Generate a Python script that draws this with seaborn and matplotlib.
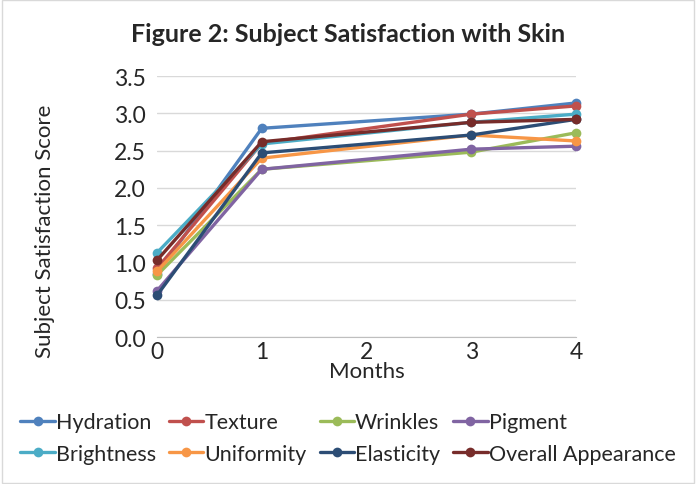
import pandas as pd
import matplotlib.pyplot as plt
import seaborn as sns
from matplotlib.patches import Rectangle

# values
months = [0, 1, 3, 4]
hydration = [0.85, 2.80, 2.99, 3.14]
texture = [0.92, 2.60, 2.99, 3.10]
wrinkles = [0.83, 2.25, 2.48, 2.74]
pigment = [0.62, 2.25, 2.52, 2.56]
brightness = [1.13, 2.59, 2.88, 2.99]
uniformity = [0.88, 2.40, 2.71, 2.63]
elasticity = [0.56, 2.47, 2.71, 2.92]
overall = [1.03, 2.62, 2.88, 2.92]

series = {
    'Hydration': hydration,
    'Texture': texture,
    'Wrinkles': wrinkles,
    'Pigment': pigment,
    'Brightness': brightness,
    'Uniformity': uniformity,
    'Elasticity': elasticity,
    'Overall Appearance': overall,
}
colors = ['#4F81BD', '#C0504D', '#9BBB59', '#8064A2',
          '#4BACC6', '#F79646', '#2C4D75', '#772C2A']

rows = []
for name, vals in series.items():
    for m, v in zip(months, vals):
        rows.append({'Month': m, 'Score': v, 'Attribute': name})
df = pd.DataFrame(rows)

sns.set_style('white')
plt.rcParams['font.family'] = ['Lato', 'DejaVu Sans']

fig = plt.figure(figsize=(6.96, 4.85), dpi=100)
ax = fig.add_axes([0.2256, 0.303, 0.602, 0.538])

sns.lineplot(data=df, x='Month', y='Score', hue='Attribute',
             hue_order=list(series.keys()), palette=colors,
             marker='o', markersize=7, markeredgewidth=0,
             linewidth=2.4, ax=ax, legend=True)
for line in ax.get_lines():
    line.set_clip_on(False)

ax.set_xlim(0, 4)
ax.set_ylim(0, 3.5)
ax.set_xticks([0, 1, 2, 3, 4])
ax.set_yticks([0, 0.5, 1.0, 1.5, 2.0, 2.5, 3.0, 3.5])
ax.set_yticklabels([f'{v:.1f}' for v in ax.get_yticks()])
ax.yaxis.grid(True, color='#D9D9D9', linewidth=1)
ax.set_axisbelow(True)
for s in ['top', 'right', 'left']:
    ax.spines[s].set_visible(False)
ax.spines['bottom'].set_color('#BFBFBF')
ax.tick_params(axis='both', labelsize=16.5, length=0)
ax.tick_params(axis='y', pad=8)
ax.tick_params(axis='x', pad=3)
ax.set_xlabel('Months', fontsize=16)
ax.xaxis.set_label_coords(0.5, -0.092)
ax.set_ylabel('Subject Satisfaction Score', fontsize=16)
ax.yaxis.set_label_coords(-0.243, 0.41)

fig.text(0.5, 1 - 35 / 485, 'Figure 2: Subject Satisfaction with Skin',
         fontsize=18, fontweight='bold', ha='center', va='center')

# legend filled row by row, like the original
handles, labels = ax.get_legend_handles_labels()
ax.get_legend().remove()
order = [0, 4, 1, 5, 2, 6, 3, 7]
fig.legend([handles[i] for i in order], [labels[i] for i in order],
           loc='center', bbox_to_anchor=(0.5, 1 - 439 / 485),
           ncol=4, fontsize=15.5, frameon=False, handlelength=1.6,
           handletextpad=0.05, columnspacing=0.6, labelspacing=0.55)

fig.patches.append(Rectangle((0.003, 0.003), 0.994, 0.994, transform=fig.transFigure,
                             fill=False, edgecolor='#D9D9D9', linewidth=1))

fig.savefig('out.png', dpi=100)
